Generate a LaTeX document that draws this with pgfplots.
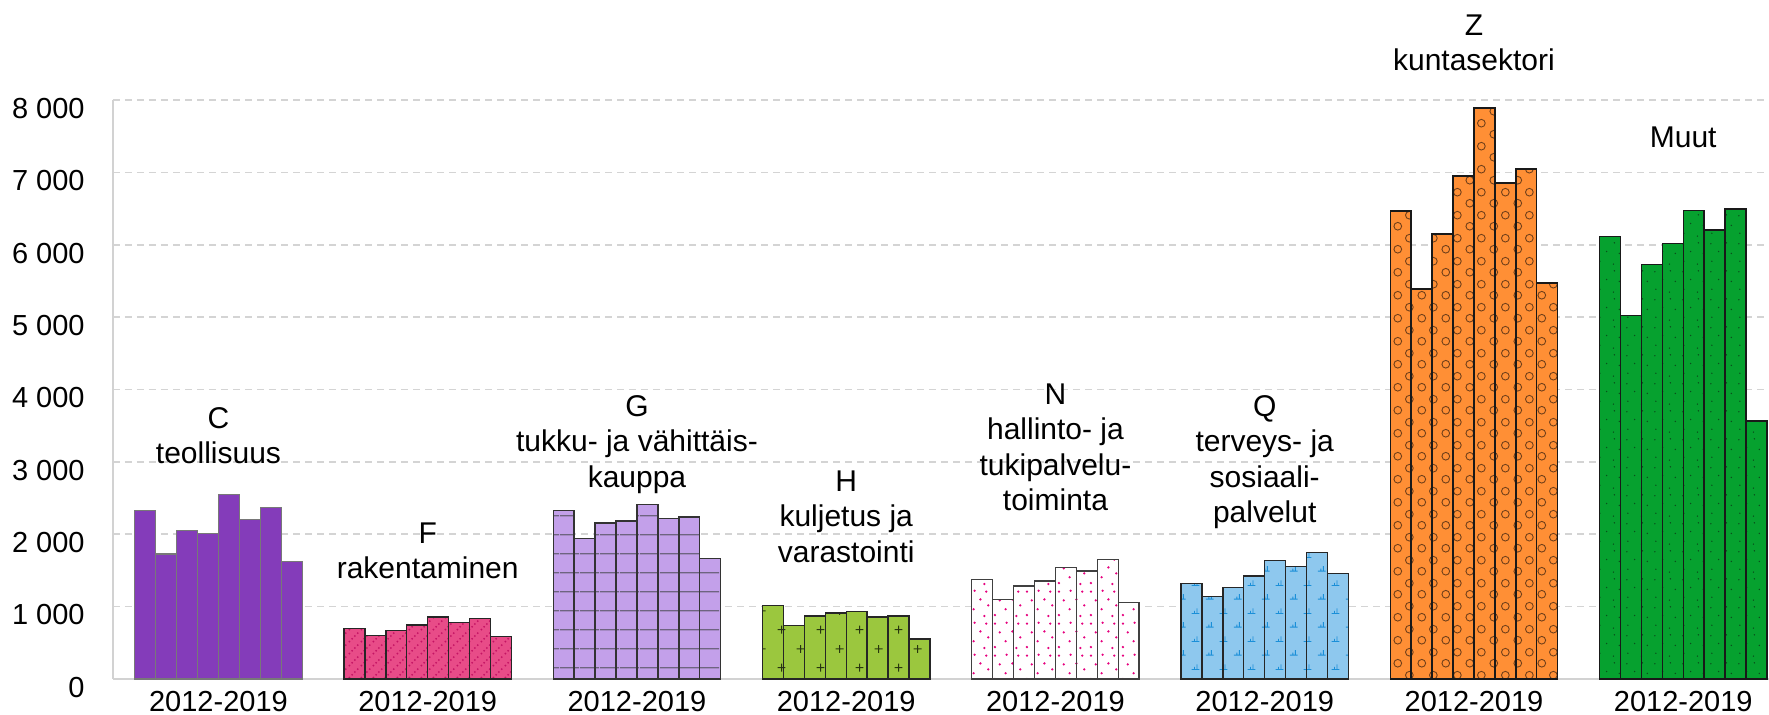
\documentclass[border=0pt]{standalone}
\usepackage{fontspec}
\setmainfont{Liberation Sans}
\usepackage{pgfplots}
\pgfplotsset{compat=1.18}
\usetikzlibrary{patterns.meta}

\definecolor{cC}{RGB}{132,60,186}
\definecolor{cCb}{RGB}{120,120,120}
\definecolor{cF}{RGB}{232,76,136}
\definecolor{cFp}{RGB}{196,20,100}
\definecolor{cG}{RGB}{195,160,234}
\definecolor{cGp}{RGB}{110,100,128}
\definecolor{cH}{RGB}{155,199,62}
\definecolor{cHp}{RGB}{40,55,15}
\definecolor{cNp}{RGB}{230,0,126}
\definecolor{cQ}{RGB}{142,200,238}
\definecolor{cQp}{RGB}{26,143,216}
\definecolor{cZ}{RGB}{255,143,53}
\definecolor{cZp}{RGB}{110,62,25}
\definecolor{cM}{RGB}{6,161,47}
\definecolor{cMp}{RGB}{10,80,28}
\definecolor{gridc}{RGB}{212,212,212}
\definecolor{axc}{RGB}{210,210,210}

\tikzset{lbl/.style={anchor=north, align=center, inner sep=0pt, font=\fontsize{15}{17.75}\selectfont}}

% F: diagonal dotted lines
\pgfdeclarepattern{
  name=patF, type=uncolored,
  bottom left={\pgfpoint{0pt}{0pt}},
  top right={\pgfpoint{6pt}{6pt}},
  tile size={\pgfpoint{6pt}{6pt}},
  code={
    \pgfpathcircle{\pgfpoint{0.75pt}{0.75pt}}{0.55pt}
    \pgfpathcircle{\pgfpoint{2.25pt}{2.25pt}}{0.55pt}
    \pgfpathcircle{\pgfpoint{3.75pt}{3.75pt}}{0.55pt}
    \pgfpathcircle{\pgfpoint{5.25pt}{5.25pt}}{0.55pt}
    \pgfusepath{fill}
  }
}
% G: horizontal lines
\pgfdeclarepattern{
  name=patG, type=uncolored,
  bottom left={\pgfpoint{0pt}{0pt}},
  top right={\pgfpoint{10pt}{9.65pt}},
  tile size={\pgfpoint{10pt}{9.65pt}},
  code={
    \pgfsetlinewidth{0.6pt}
    \pgfpathmoveto{\pgfpoint{0pt}{4.8pt}}
    \pgfpathlineto{\pgfpoint{10pt}{4.8pt}}
    \pgfusepath{stroke}
  }
}
% H: plus signs
\pgfdeclarepattern{
  name=patH, type=uncolored,
  bottom left={\pgfpoint{0pt}{0pt}},
  top right={\pgfpoint{19.3pt}{19pt}},
  tile size={\pgfpoint{19.3pt}{19pt}},
  code={
    \pgfsetlinewidth{0.5pt}
    \pgfpathmoveto{\pgfpoint{2.8pt}{4.75pt}}\pgfpathlineto{\pgfpoint{6.8pt}{4.75pt}}
    \pgfpathmoveto{\pgfpoint{4.8pt}{2.75pt}}\pgfpathlineto{\pgfpoint{4.8pt}{6.75pt}}
    \pgfpathmoveto{\pgfpoint{12.45pt}{14.25pt}}\pgfpathlineto{\pgfpoint{16.45pt}{14.25pt}}
    \pgfpathmoveto{\pgfpoint{14.45pt}{12.25pt}}\pgfpathlineto{\pgfpoint{14.45pt}{16.25pt}}
    \pgfusepath{stroke}
  }
}
% N: scattered dots
\pgfdeclarepattern{
  name=patN, type=uncolored,
  bottom left={\pgfpoint{0pt}{0pt}},
  top right={\pgfpoint{16pt}{16pt}},
  tile size={\pgfpoint{16pt}{16pt}},
  code={
    \pgfpathcircle{\pgfpoint{1.5pt}{2pt}}{0.65pt}
    \pgfpathcircle{\pgfpoint{7pt}{5pt}}{0.65pt}
    \pgfpathcircle{\pgfpoint{12.5pt}{1.5pt}}{0.65pt}
    \pgfpathcircle{\pgfpoint{4pt}{9.5pt}}{0.65pt}
    \pgfpathcircle{\pgfpoint{10.5pt}{10pt}}{0.65pt}
    \pgfpathcircle{\pgfpoint{14.5pt}{7pt}}{0.65pt}
    \pgfpathcircle{\pgfpoint{1.5pt}{14pt}}{0.65pt}
    \pgfpathcircle{\pgfpoint{7.5pt}{14.5pt}}{0.65pt}
    \pgfpathcircle{\pgfpoint{13.5pt}{14pt}}{0.65pt}
    \pgfusepath{fill}
  }
}
% Q: small bar-glyph marks
\pgfdeclarepattern{
  name=patQ, type=uncolored,
  bottom left={\pgfpoint{0pt}{0pt}},
  top right={\pgfpoint{14pt}{14pt}},
  tile size={\pgfpoint{14pt}{14pt}},
  code={
    \pgfsetlinewidth{0.45pt}
    \pgfpathmoveto{\pgfpoint{1pt}{2pt}}\pgfpathlineto{\pgfpoint{5pt}{2pt}}
    \pgfpathmoveto{\pgfpoint{2.5pt}{2pt}}\pgfpathlineto{\pgfpoint{2.5pt}{3.3pt}}
    \pgfpathmoveto{\pgfpoint{3.8pt}{2pt}}\pgfpathlineto{\pgfpoint{3.8pt}{4.6pt}}
    \pgfpathmoveto{\pgfpoint{8pt}{9pt}}\pgfpathlineto{\pgfpoint{12pt}{9pt}}
    \pgfpathmoveto{\pgfpoint{9.5pt}{9pt}}\pgfpathlineto{\pgfpoint{9.5pt}{10.3pt}}
    \pgfpathmoveto{\pgfpoint{10.8pt}{9pt}}\pgfpathlineto{\pgfpoint{10.8pt}{11.6pt}}
    \pgfusepath{stroke}
  }
}
% Z: open circles
\pgfdeclarepattern{
  name=patZ, type=uncolored,
  bottom left={\pgfpoint{0pt}{0pt}},
  top right={\pgfpoint{12pt}{11.5pt}},
  tile size={\pgfpoint{12pt}{11.5pt}},
  code={
    \pgfsetlinewidth{0.45pt}
    \pgfpathcircle{\pgfpoint{3pt}{3pt}}{2pt}
    \pgfpathcircle{\pgfpoint{9pt}{8.75pt}}{2pt}
    \pgfusepath{stroke}
  }
}
% Muut: tiny dots
\pgfdeclarepattern{
  name=patM, type=uncolored,
  bottom left={\pgfpoint{0pt}{0pt}},
  top right={\pgfpoint{14pt}{14pt}},
  tile size={\pgfpoint{14pt}{14pt}},
  code={
    \pgfpathcircle{\pgfpoint{2pt}{3pt}}{0.4pt}
    \pgfpathcircle{\pgfpoint{9pt}{1.5pt}}{0.4pt}
    \pgfpathcircle{\pgfpoint{5.5pt}{8pt}}{0.4pt}
    \pgfpathcircle{\pgfpoint{12pt}{7pt}}{0.4pt}
    \pgfpathcircle{\pgfpoint{1.5pt}{12pt}}{0.4pt}
    \pgfpathcircle{\pgfpoint{9.5pt}{12.5pt}}{0.4pt}
    \pgfusepath{fill}
  }
}

\begin{document}
\begin{tikzpicture}
\begin{axis}[
  at={(0,0)}, anchor=south west,
  scale only axis,
  width=828pt, height=289.5pt,
  xmin=-1.54, xmax=77.6,
  ymin=0, ymax=8000,
  ybar, bar width=1,
  clip=false,
  axis x line*=bottom, axis y line*=left,
  axis line style={draw=axc, line width=1pt},
  major tick length=0pt,
  xtick={3.5,13.5,23.5,33.5,43.5,53.5,63.5,73.5},
  xticklabels={2012-2019,2012-2019,2012-2019,2012-2019,2012-2019,2012-2019,2012-2019,2012-2019},
  ytick={0,1000,2000,3000,4000,5000,6000,7000,8000},
  yticklabels={0,{1 000},{2 000},{3 000},{4 000},{5 000},{6 000},{7 000},{8 000}},
  tick label style={font=\fontsize{14.5}{17.75}\selectfont, inner sep=0pt},
  xticklabel style={anchor=north, yshift=-5.8pt},
  yticklabel style={anchor=east, xshift=-14pt, yshift=-4.2pt},
  ymajorgrids,
  major grid style={draw=gridc, line width=0.75pt, dash pattern=on 3.5pt off 2.5pt},
]
\addplot[bar shift=0pt, fill=cC, draw=cCb, line width=0.6pt] coordinates {
 (0,2333) (1,1726) (2,2048) (3,2006) (4,2545) (5,2204) (6,2375) (7,1620)};
\addplot[bar shift=0pt, fill=cF, draw=black!85, line width=0.7pt, postaction={pattern=patF, pattern color=cFp}] coordinates {
 (10,700) (11,603) (12,672) (13,745) (14,856) (15,782) (16,833) (17,589)};
\addplot[bar shift=0pt, fill=cG, draw=black!80, line width=0.7pt, postaction={pattern=patG, pattern color=cGp}] coordinates {
 (20,2324) (21,1942) (22,2154) (23,2181) (24,2411) (25,2218) (26,2237) (27,1661)};
\addplot[bar shift=0pt, fill=cH, draw=black!85, line width=0.7pt, postaction={pattern=patH, pattern color=cHp}] coordinates {
 (30,1012) (31,736) (32,870) (33,911) (34,930) (35,856) (36,870) (37,552)};
\addplot[bar shift=0pt, fill=white, draw=black!75, line width=0.7pt, postaction={pattern=patN, pattern color=cNp}] coordinates {
 (40,1376) (41,1100) (42,1284) (43,1353) (44,1542) (45,1491) (46,1647) (47,1058)};
\addplot[bar shift=0pt, fill=cQ, draw=black!85, line width=0.7pt, postaction={pattern=patQ, pattern color=cQp}] coordinates {
 (50,1316) (51,1137) (52,1261) (53,1422) (54,1634) (55,1551) (56,1744) (57,1459)};
\addplot[bar shift=0pt, fill=cZ, draw=black!90, line width=0.7pt, postaction={pattern=patZ, pattern color=cZp}] coordinates {
 (60,6469) (61,5386) (62,6148) (63,6948) (64,7887) (65,6854) (66,7049) (67,5474)};
\addplot[bar shift=0pt, fill=cM, draw=black!90, line width=0.7pt, postaction={pattern=patM, pattern color=cMp}] coordinates {
 (70,6110) (71,5020) (72,5726) (73,6016) (74,6476) (75,6205) (76,6494) (77,3565)};

\node[lbl] at (axis cs:3.5,3758) {C\\teollisuus};
\node[lbl] at (axis cs:13.5,2169) {F\\rakentaminen};
\node[lbl] at (axis cs:23.5,3924) {G\\tukku- ja vähittäis-\\kauppa};
\node[lbl] at (axis cs:33.5,2888) {H\\kuljetus ja\\varastointi};
\node[lbl] at (axis cs:43.5,4090) {N\\hallinto- ja\\tukipalvelu-\\toiminta};
\node[lbl] at (axis cs:53.5,3924) {Q\\terveys- ja\\sosiaali-\\palvelut};
\node[lbl] at (axis cs:63.5,9188) {Z\\kuntasektori};
\node[lbl] at (axis cs:73.5,7641) {Muut};
\end{axis}
\pgfresetboundingbox
\path[use as bounding box] (-56.5pt,-18pt) rectangle (828pt,339.5pt);
\end{tikzpicture}
\end{document}
